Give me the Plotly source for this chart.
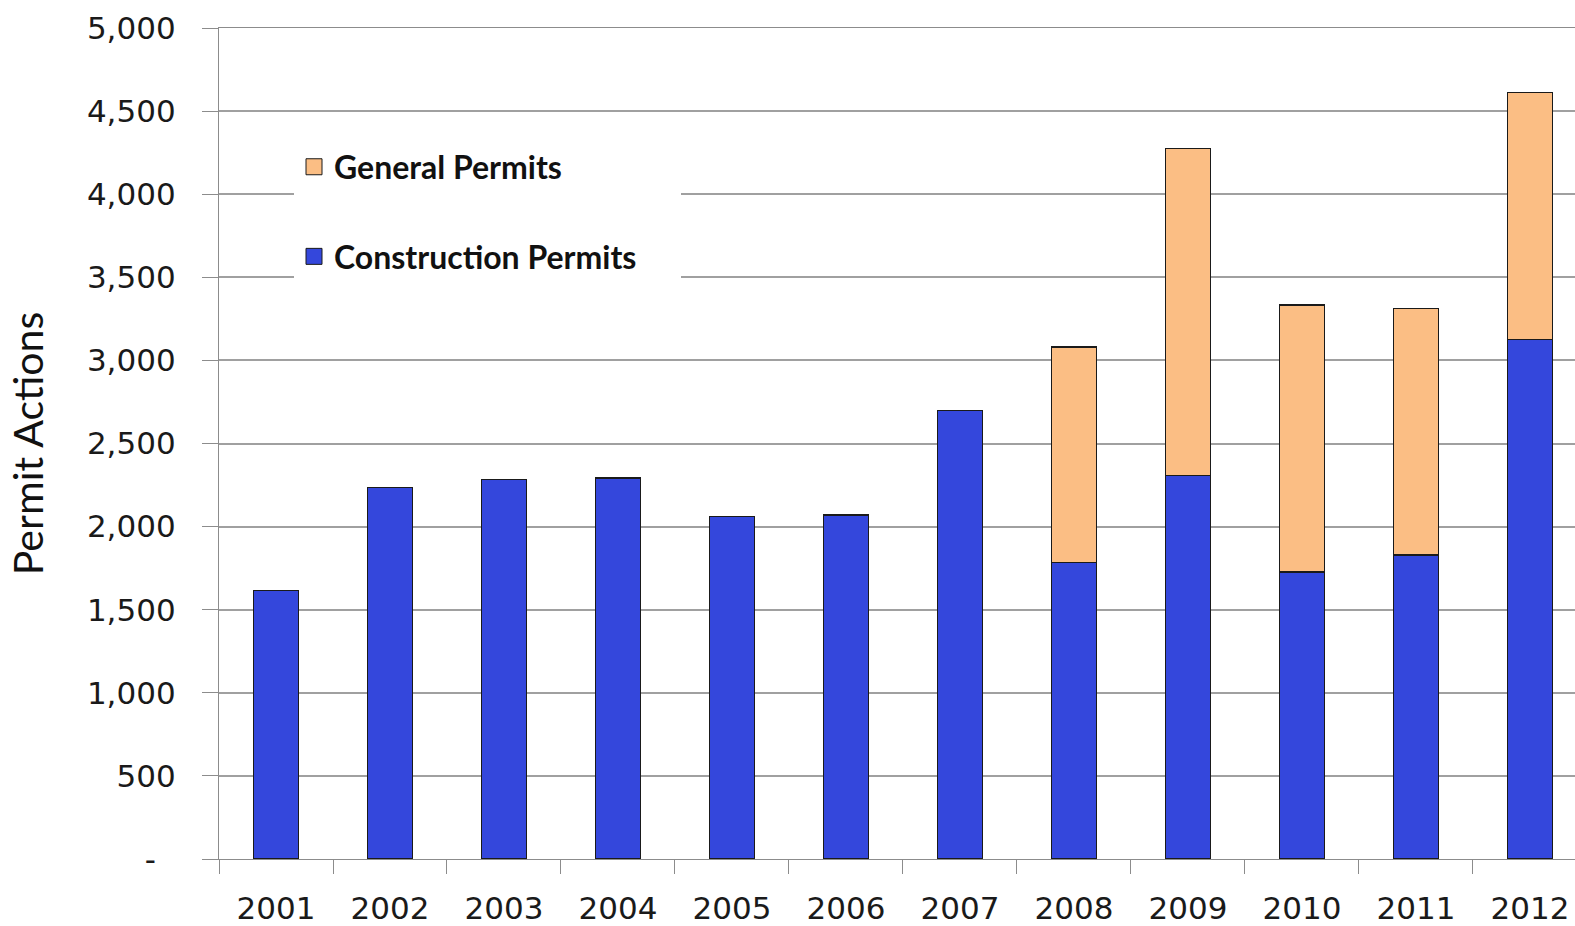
import plotly.graph_objects as go

years = ["2001", "2002", "2003", "2004", "2005", "2006",
         "2007", "2008", "2009", "2010", "2011", "2012"]
construction = [1615, 2237, 2285, 2293, 2062, 2069, 2697, 1782, 2307, 1727, 1830, 3124]
general = [None, None, None, None, None, None, None, 1298, 1969, 1606, 1483, 1489]

y_tickvals = [0, 500, 1000, 1500, 2000, 2500, 3000, 3500, 4000, 4500, 5000]
y_ticktext = ["-\u00a0\u00a0", "500", "1,000", "1,500", "2,000", "2,500",
              "3,000", "3,500", "4,000", "4,500", "5,000"]

BLUE = "#3447DC"
ORANGE = "#FBBE84"
PAD = "\u00a0" * 5

fig = go.Figure()
fig.add_trace(go.Bar(x=years, y=construction, name="Construction Permits",
                     marker=dict(color=BLUE, line=dict(color="#1a1a1a", width=1.3)),
                     showlegend=False))
fig.add_trace(go.Bar(x=years, y=general, name="General Permits",
                     marker=dict(color=ORANGE, line=dict(color="#1a1a1a", width=1.3)),
                     showlegend=False))

# legend entries (square swatches)
fig.add_trace(go.Scatter(x=[None], y=[None], mode="markers", name="General Permits",
                         legendgroup="g", legendrank=1,
                         marker=dict(symbol="square", size=18, color=ORANGE,
                                     line=dict(color="#1a1a1a", width=1))))
fig.add_trace(go.Scatter(x=[None], y=[None], mode="markers", name="Construction Permits" + PAD,
                         legendgroup="c", legendrank=2,
                         marker=dict(symbol="square", size=18, color=BLUE,
                                     line=dict(color="#1a1a1a", width=1))))

fig.update_layout(
    width=1575, height=926,
    margin=dict(l=219, r=0, t=28, b=62),
    paper_bgcolor="white", plot_bgcolor="white",
    barmode="stack", bargap=0.6,
    font=dict(family="DejaVu Sans", color="#1a1a1a"),
    legend=dict(x=(294 - 219) / 1356, y=1 - (140 - 28) / 835, xanchor="left", yanchor="top",
                bgcolor="white", font=dict(family="Lato", size=32, color="#111111", weight="bold"),
                itemsizing="trace", tracegroupgap=45, traceorder="grouped"),
    xaxis=dict(type="category", range=[-0.5, 11.395],
               showline=True, linecolor="#8c8c8c", linewidth=1.3, mirror=True,
               ticks="outside", tickson="boundaries", ticklen=14, tickcolor="#8c8c8c",
               tickwidth=1.3, tickfont=dict(family="DejaVu Sans", size=31, color="#1a1a1a"),
               ticklabelstandoff=22, showgrid=False),
    yaxis=dict(range=[0, 5000], tickvals=y_tickvals, ticktext=y_ticktext,
               showline=True, linecolor="#8c8c8c", linewidth=1.3,
               ticks="outside", ticklen=16, tickcolor="#8c8c8c", tickwidth=1.3,
               showgrid=True, gridcolor="#a0a0a0", gridwidth=1.5,
               tickfont=dict(family="DejaVu Sans", size=31, color="#1a1a1a"),
               ticklabelstandoff=20, zeroline=False,
               title=dict(text="Permit Actions", font=dict(family="Lato", size=41, color="#111111"),
                          standoff=30)),
)

fig.write_html("out.html", config={"displayModeBar": False},
               post_script="document.body.style.margin='0';document.body.style.overflow='hidden';")
